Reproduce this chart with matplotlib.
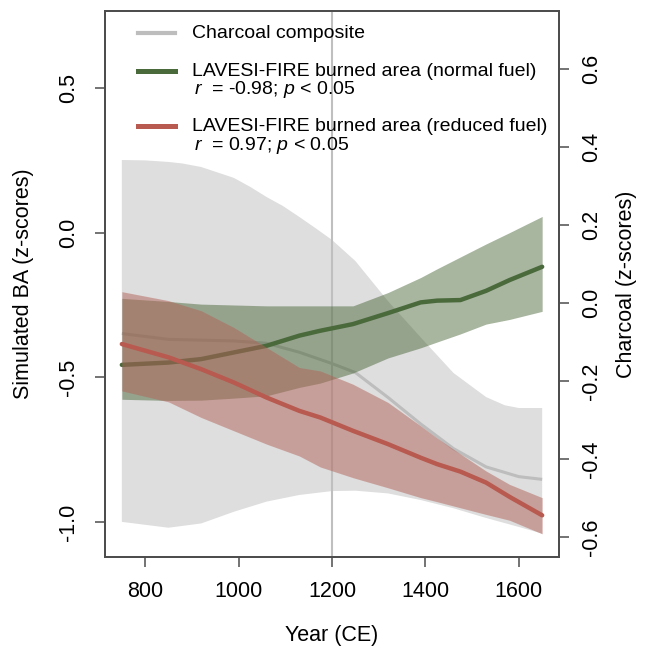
import matplotlib
matplotlib.use("Agg")
import matplotlib.pyplot as plt
from matplotlib.lines import Line2D

plt.rcParams['font.family'] = ['Liberation Sans', 'DejaVu Sans']
plt.rcParams['mathtext.fontset'] = 'custom'
plt.rcParams['mathtext.it'] = 'Liberation Sans:italic'
plt.rcParams['mathtext.rm'] = 'Liberation Sans'
plt.rcParams['axes.unicode_minus'] = False

# ---- data ----
char_years = [750, 850, 920, 990, 1060, 1130, 1200, 1250, 1320, 1390, 1460, 1530, 1600, 1650]
char_mean = [-0.078, -0.093, -0.095, -0.097, -0.103, -0.126, -0.155, -0.178, -0.242, -0.310, -0.373, -0.420, -0.445, -0.452]
char_lower = [-0.561, -0.576, -0.565, -0.535, -0.509, -0.492, -0.482, -0.481, -0.488, -0.505, -0.526, -0.551, -0.574, -0.591]
char_up_years = [750, 800, 850, 880, 920, 950, 990, 1025, 1060, 1095, 1130, 1165, 1200, 1250, 1320, 1390, 1460, 1530, 1570, 1600, 1650]
char_upper = [0.367, 0.366, 0.362, 0.358, 0.349, 0.337, 0.321, 0.298, 0.272, 0.249, 0.221, 0.192, 0.162, 0.108, 0.005, -0.088, -0.179, -0.241, -0.262, -0.269, -0.269]

ba_years = [750, 850, 920, 990, 1060, 1130, 1175, 1245, 1320, 1390, 1425, 1475, 1530, 1580, 1650]
normal_mean = [-0.457, -0.449, -0.437, -0.414, -0.391, -0.356, -0.339, -0.316, -0.278, -0.241, -0.235, -0.233, -0.201, -0.164, -0.118]
normal_upper = [-0.227, -0.238, -0.247, -0.250, -0.253, -0.253, -0.253, -0.253, -0.207, -0.155, -0.125, -0.084, -0.039, 0.000, 0.056]
normal_lower = [-0.576, -0.580, -0.579, -0.572, -0.564, -0.535, -0.520, -0.485, -0.433, -0.398, -0.378, -0.350, -0.316, -0.300, -0.272]

reduced_mean = [-0.385, -0.431, -0.472, -0.518, -0.570, -0.616, -0.639, -0.685, -0.731, -0.778, -0.800, -0.826, -0.864, -0.913, -0.977]
reduced_upper = [-0.204, -0.235, -0.270, -0.328, -0.397, -0.466, -0.478, -0.524, -0.587, -0.668, -0.710, -0.765, -0.824, -0.870, -0.916]
reduced_lower = [-0.547, -0.585, -0.639, -0.685, -0.731, -0.772, -0.810, -0.847, -0.882, -0.916, -0.930, -0.951, -0.974, -0.994, -1.041]

x_ticks = [800, 1000, 1200, 1400, 1600]
left_ticks = [-1.0, -0.5, 0.0, 0.5]
right_ticks = [-0.6, -0.4, -0.2, 0.0, 0.2, 0.4, 0.6]
marker_year = 1200

legend_labels = ["Charcoal composite",
                 "LAVESI-FIRE burned area (normal fuel)",
                 "LAVESI-FIRE burned area (reduced fuel)"]
stats_labels = ["$r$  = -0.98; $p$ < 0.05", "$r$  = 0.97; $p$ < 0.05"]

# ---- colours ----
gray_band = '#dedede'
gray_line = '#bdbdbd'
green_line = '#4a6a3c'
green_fill = '#3e5d2c'
red_line = '#b85a4f'
red_fill = '#b26258'
frame = '#4d4d4d'

fig = plt.figure(figsize=(6.54, 6.49), dpi=100)
ax1 = fig.add_axes([0.1606, 0.1418, 0.6941, 0.8412])
ax2 = ax1.twinx()
ax1.set_zorder(ax2.get_zorder() + 1)
ax1.patch.set_visible(False)

# charcoal on right axis (band as polygon: upper edge forward, lower edge back)
band_x = list(char_up_years) + list(char_years[::-1])
band_y = list(char_upper) + list(char_lower[::-1])
ax2.fill(band_x, band_y, color=gray_band, lw=0, zorder=1)
ax2.axvline(marker_year, color='#bfbfbf', lw=1.5, zorder=2)
ax2.plot(char_years, char_mean, color=gray_line, lw=2.2, zorder=3, solid_capstyle='butt')

# simulated BA on left axis
ax1.fill_between(ba_years, normal_lower, normal_upper, color=green_fill, alpha=0.45, lw=0, zorder=1)
ax1.plot(ba_years, normal_mean, color=green_line, lw=3.2, zorder=2, solid_capstyle='round')
ax1.fill_between(ba_years, reduced_lower, reduced_upper, color=red_fill, alpha=0.5, lw=0, zorder=3)
ax1.plot(ba_years, reduced_mean, color=red_line, lw=3.2, zorder=4, solid_capstyle='round')

ax1.set_xlim(714, 1686)
ax1.set_ylim(-1.121, 0.766)
ax2.set_ylim(-0.651, 0.749)

ax1.set_xticks(x_ticks)
ax1.set_xticklabels([str(t) for t in x_ticks])
ax1.set_yticks(left_ticks)
ax1.set_yticklabels([f"{t:.1f}" for t in left_ticks])
ax2.set_yticks(right_ticks)
ax2.set_yticklabels([f"{t:.1f}" for t in right_ticks])

for ax in (ax1, ax2):
    for s in ax.spines.values():
        s.set_color(frame)
        s.set_linewidth(1.3)
    ax.tick_params(length=7, width=1.1, color=frame, labelsize=15.5, labelcolor='black')

ax1.tick_params(axis='x', pad=10)
ax1.tick_params(axis='y', pad=12)
ax2.tick_params(axis='y', pad=9)
for lab in ax1.get_yticklabels():
    lab.set_rotation(90)
    lab.set_va('center')
for lab in ax2.get_yticklabels():
    lab.set_rotation(90)
    lab.set_va('center')

ax1.set_xlabel("Year (CE)", fontsize=15.5, labelpad=17)
ax1.set_ylabel("Simulated BA (z-scores)", fontsize=15.5, labelpad=17)
ax2.set_ylabel("Charcoal (z-scores)", fontsize=15.5, rotation=90, labelpad=10)

# legend (manual, no frame)
hx0, hx1, tx = 0.0727, 0.154, 0.1916
rows = [0.9597, 0.890, 0.789]
handle_cols = [gray_line, green_line, red_line]
handle_lw = [3.0, 3.6, 3.6]
for y, c, lw, lab in zip(rows, handle_cols, handle_lw, legend_labels):
    ax1.add_line(Line2D([hx0, hx1], [y, y], transform=ax1.transAxes, color=c, lw=lw, zorder=10))
    ax1.text(tx, y, lab, transform=ax1.transAxes, fontsize=14, va='center', ha='left', zorder=10)
for y, lab in zip([0.857, 0.7546], stats_labels):
    ax1.text(tx + 0.005, y, lab, transform=ax1.transAxes, fontsize=14, va='center', ha='left', zorder=10)

fig.savefig("out.png", dpi=100)
